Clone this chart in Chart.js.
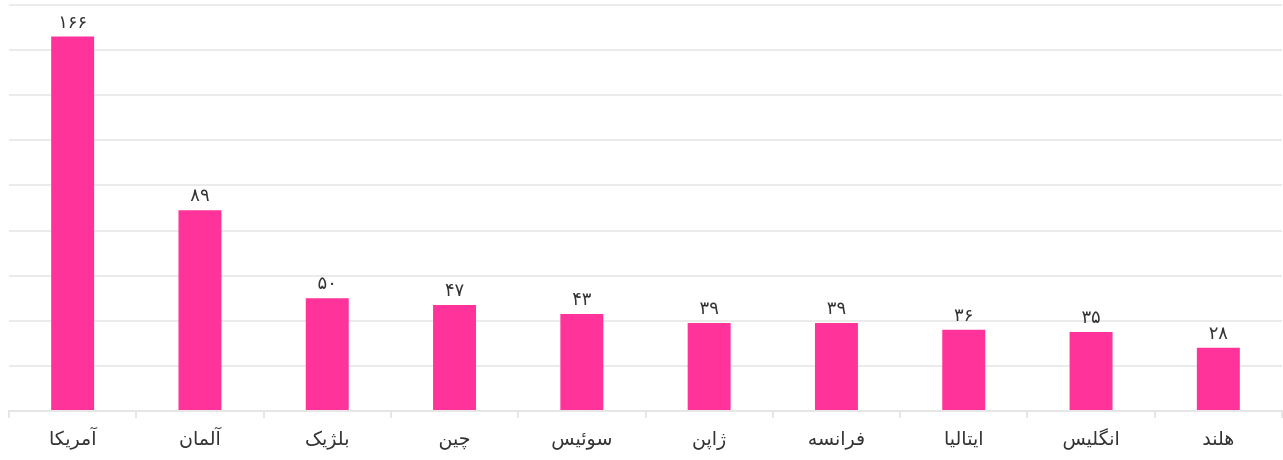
<!DOCTYPE html>
<html>
<head>
<meta charset="utf-8">
<script src="https://cdn.jsdelivr.net/npm/chart.js@4"></script>
<style>
  html, body { margin: 0; padding: 0; background: #fff; }
  .wrap { width: 1283px; height: 460px; position: relative; }
</style>
</head>
<body>
<div class="wrap"><canvas id="chart"></canvas></div>
<script>
/* ===== DATA ===== */
const countries = ['آمریکا', 'آلمان', 'بلژیک', 'چین', 'سوئیس', 'ژاپن', 'فرانسه', 'ایتالیا', 'انگلیس', 'هلند'];
const counts = [166, 89, 50, 47, 43, 39, 39, 36, 35, 28];

const faDigits = '۰۱۲۳۴۵۶۷۸۹';
const toFa = (n) => String(n).replace(/\d/g, d => faDigits[d]);

const fontFamily = "'DejaVu Sans', sans-serif";

// value labels above bars
const valueLabels = {
  id: 'valueLabels',
  afterDatasetsDraw(chart) {
    const { ctx } = chart;
    const meta = chart.getDatasetMeta(0);
    ctx.save();
    ctx.font = `18px ${fontFamily}`;
    ctx.fillStyle = '#333';
    ctx.textAlign = 'center';
    ctx.textBaseline = 'alphabetic';
    meta.data.forEach((bar, i) => {
      ctx.fillText(toFa(counts[i]), bar.x, bar.y - 9);
    });
    ctx.restore();
  }
};

new Chart(document.getElementById('chart'), {
  type: 'bar',
  data: {
    labels: countries,
    datasets: [{
      data: counts,
      backgroundColor: '#ff3399',
      borderWidth: 0,
      barPercentage: 0.3375,
      categoryPercentage: 1
    }]
  },
  options: {
    responsive: true, maintainAspectRatio: false,
    animation: false,
    layout: { padding: { left: 9, right: 1, top: 5, bottom: 0 } },
    plugins: { legend: { display: false }, tooltip: { enabled: false } },
    scales: {
      x: {
        grid: { offset: true, drawOnChartArea: false, tickLength: 7, color: '#e6e6e6', lineWidth: 2 },
        border: { color: '#e6e6e6', width: 2 },
        ticks: { font: { family: fontFamily, size: 19 }, color: '#333', padding: 11, maxRotation: 0 },
        afterFit: (scale) => { scale.height = 49; }
      },
      y: {
        min: 0, max: 180,
        ticks: { display: false, stepSize: 20 },
        grid: { color: '#ebebeb', lineWidth: 2, drawTicks: false },
        border: { display: false }
      }
    }
  },
  plugins: [valueLabels]
});
</script>
</body>
</html>
